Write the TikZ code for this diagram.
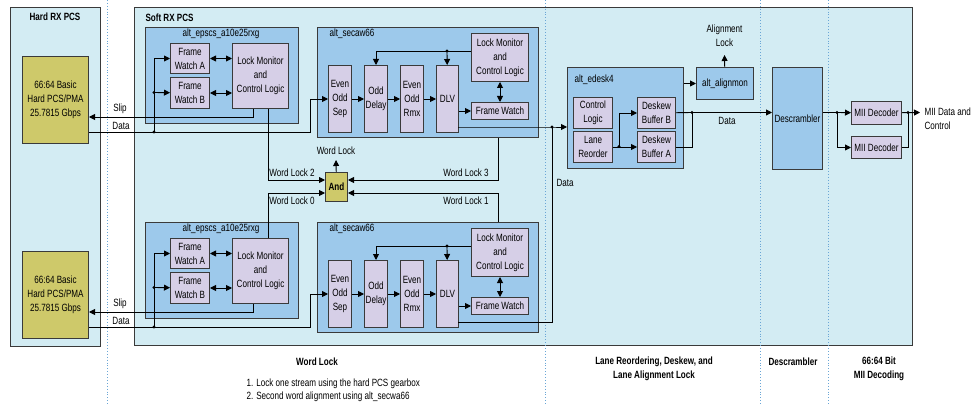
\documentclass[tikz,border=0pt]{standalone}
\usepackage{fontspec}
\setmainfont{Liberation Sans}[FakeStretch=0.77]
\usetikzlibrary{arrows.meta}

\definecolor{paleblue}{HTML}{D3ECF3}
\definecolor{midblue}{HTML}{9DC9EB}
\definecolor{lilac}{HTML}{D6CFE7}
\definecolor{olive}{HTML}{CEC96A}
\definecolor{edge}{HTML}{3A3A3A}
\definecolor{sepblue}{HTML}{6AA6D6}

\begin{document}
\begin{tikzpicture}[x=1pt,y=-1pt,
  font=\fontsize{10.5}{14}\selectfont,
  >={Triangle[length=6pt,width=6pt]},
  region/.style={draw=edge,fill=paleblue,line width=1pt},
  unit/.style={draw=edge,fill=midblue,line width=1pt,anchor=north west,inner sep=0pt,align=center},
  block/.style={draw=edge,fill=lilac,line width=1pt,anchor=north west,inner sep=0pt,align=center},
  pma/.style={draw=edge,fill=olive,line width=1pt,anchor=north west,inner sep=0pt,align=center,minimum width=66,minimum height=87},
  wire/.style={line width=0.9pt},
  sepline/.style={draw=sepblue,line width=0.9pt,dotted},
  caption/.style={font=\fontsize{10.5}{14}\selectfont\bfseries,align=center}
]
\useasboundingbox (0,0) rectangle (974,406);

% the two PCS regions
\draw[region] (10,8) rectangle (100,346);
\draw[region] (134,8) rectangle (912,345);
\node[caption] (hardt) at (55,17) {Hard RX PCS};
\node[caption,anchor=west] (softt) at (142,18) {Soft RX PCS};

% column separators
\foreach \xx in {107,545,760,828}
  \draw[sepline] (\xx,0) -- (\xx,406);

% two word lock lanes
\foreach \s/\n in {0/t,195/b}{
  \node[pma] (pma\n) at (22,56+\s) {66:64 Basic\\Hard PCS/PMA\\25.7815 Gbps};
  \node[unit,minimum width=153,minimum height=96] (epscs\n) at (145,27+\s) {};
  \node (epl\n) at (221,34+\s) {alt\_epscs\_a10e25rxg};
  \node[block,minimum width=39,minimum height=30] (fwa\n) at (170,43+\s) {Frame\\Watch A};
  \node[block,minimum width=39,minimum height=31] (fwb\n) at (170,77+\s) {Frame\\Watch B};
  \node[block,minimum width=56,minimum height=65] (lm\n) at (232,43+\s) {Lock Monitor\\and\\Control Logic};

  \node[unit,minimum width=221,minimum height=110] (secaw\n) at (317,27+\s) {};
  \node[anchor=west] (secl\n) at (326,34+\s) {alt\_secaw66};
  \node[block,minimum width=23,minimum height=67] (sep\n) at (328,65+\s) {Even\\Odd\\Sep};
  \node[block,minimum width=23,minimum height=67] (odl\n) at (364,65+\s) {Odd\\Delay};
  \node[block,minimum width=23,minimum height=67] (rmx\n) at (400,65+\s) {Even\\Odd\\Rmx};
  \node[block,minimum width=22,minimum height=67] (dlv\n) at (436,65+\s) {DLV};
  \node[block,minimum width=57,minimum height=48] (lmc\n) at (471,33+\s) {Lock Monitor\\and\\Control Logic};
  \node[block,minimum width=57,minimum height=17] (fw\n) at (471,102+\s) {Frame Watch};

  \coordinate (slip\n) at (253,117+\s);
  \coordinate (dj\n) at (154,132+\s);
  \coordinate (dk\n) at (154,92.5+\s);
  \coordinate (cj\n) at (447,51+\s);
  \coordinate (dlvo\n) at (458,127+\s);

  \draw[wire,<->] (fwa\n.east) -- (lm\n.west |- fwa\n.east);
  \draw[wire,<->] (fwb\n.east) -- (lm\n.west |- fwb\n.east);
  \draw[wire,->] (lm\n.south -| slip\n) -- (slip\n) -- (pma\n.east |- slip\n);
  \draw[wire,->] (pma\n.east |- dj\n) -- (310,132+\s) |- (sep\n);
  \draw[wire,->] (dj\n) |- (fwa\n);
  \draw[wire,->] (dk\n) -- (fwb\n);
  \fill (dj\n) circle (1.7);
  \fill (dk\n) circle (1.7);
  \node (slipl\n) at (120,109+\s) {Slip};
  \node (datal\n) at (121,126+\s) {Data};

  \draw[wire,->] (sep\n) -- (odl\n);
  \draw[wire,->] (odl\n) -- (rmx\n);
  \draw[wire,->] (rmx\n) -- (dlv\n);
  \draw[wire,->] (dlv\n.east |- fw\n) -- (fw\n);
  \draw[wire,->] (lmc\n.west |- cj\n) -| (odl\n);
  \draw[wire,->] (cj\n) -- (dlv\n);
  \fill (cj\n) circle (1.7);
  \draw[wire,<->] (lmc\n) -- (fw\n);
}

% word lock gate
\node[block,fill=olive,minimum width=22,minimum height=29,caption] (andg) at (325,172) {And};
\coordinate (wl2) at (268,180);
\coordinate (wl0) at (268,193);
\coordinate (wl3) at (498,180);
\coordinate (wl1) at (498,193);
\coordinate (wlout) at (336,160);
\draw[wire,->] (lmt.south -| wl2) -- (wl2) -- (andg.west |- wl2);
\draw[wire,->] (lmb.north -| wl0) -- (wl0) -- (andg.west |- wl0);
\draw[wire,->] (secawt.south -| wl3) -- (wl3) -- (andg.east |- wl3);
\draw[wire,->] (secawb.north -| wl1) -- (wl1) -- (andg.east |- wl1);
\draw[wire,->] (andg) -- (wlout);
\node (wloutl) at (336,151) {Word Lock};
\node (wl2l) at (292,173) {Word Lock 2};
\node (wl0l) at (292,201) {Word Lock 0};
\node (wl3l) at (466,173) {Word Lock 3};
\node (wl1l) at (466,201) {Word Lock 1};

% deskew and alignment
\node[unit,minimum width=116,minimum height=101] (edesk) at (567,67) {};
\node[anchor=west] (edeskl) at (571,80) {alt\_edesk4};
\node[block,minimum width=39,minimum height=31] (ctl) at (573,97) {Control\\Logic};
\node[block,minimum width=39,minimum height=31] (lro) at (573,131) {Lane\\Reorder};
\node[block,minimum width=38,minimum height=31] (dbb) at (637,97) {Deskew\\Buffer B};
\node[block,minimum width=38,minimum height=31] (dba) at (637,131) {Deskew\\Buffer A};
\node[unit,minimum width=57,minimum height=32] (align) at (696,67) {alt\_alignmon};
\node[unit,minimum width=50,minimum height=102] (desc) at (772,67) {Descrambler};
\node[block,minimum width=50,minimum height=23] (mii1) at (851,101) {MII Decoder};
\node[block,minimum width=50,minimum height=22] (mii2) at (851,136) {MII Decoder};

\coordinate (mj) at (552,127);
\draw[wire,->] (dlvot) -- (mj) -- (edesk.west |- mj);
\draw[wire] (dlvob) -| (mj);
\fill (mj) circle (1.7);
\node[anchor=west] (datav) at (553,183) {Data};

\coordinate (rj) at (619,146.5);
\draw[wire,->] (lro) -- (dba);
\draw[wire,->] (rj) |- (dbb);
\fill (rj) circle (1.7);

\coordinate (bj) at (692,112.5);
\draw[wire,->] (dbb) -- (bj) -- (desc.west |- bj);
\draw[wire] (dba) -| (bj);
\fill (bj) circle (1.7);
\node (datah) at (727,121) {Data};

\coordinate (alout) at (724.5,55);
\draw[wire,->] (edesk.east |- align) -- (align);
\draw[wire,->] (align) -- (alout);
\node[align=center] (alignl) at (724.5,36) {Alignment\\Lock};

\coordinate (sj) at (837,112.5);
\coordinate (oj) at (908,112.5);
\coordinate (mout) at (920,112.5);
\draw[wire,->] (desc.east |- sj) -- (sj) -- (mii1);
\draw[wire,->] (sj) |- (mii2);
\draw[wire,->] (mii1) -- (mout);
\draw[wire] (mii2) -| (oj);
\fill (sj) circle (1.7);
\fill (oj) circle (1.7);
\node[anchor=west,align=left] (moutl) at (921,119) {MII Data and\\Control};

% column captions
\node[caption] (capwl) at (317,362) {Word Lock};
\node[anchor=north west,align=left,font=\fontsize{10.5}{13}\selectfont] (capnote) at (243,375) {1. Lock one stream using the hard PCS gearbox\\2. Second word alignment using alt\_secwa66};
\node[caption] (capld) at (654,369) {Lane Reordering, Deskew, and\\Lane Alignment Lock};
\node[caption] (capds) at (793,362) {Descrambler};
\node[caption] (capmii) at (879,369) {66:64 Bit\\MII Decoding};
\end{tikzpicture}
\end{document}
